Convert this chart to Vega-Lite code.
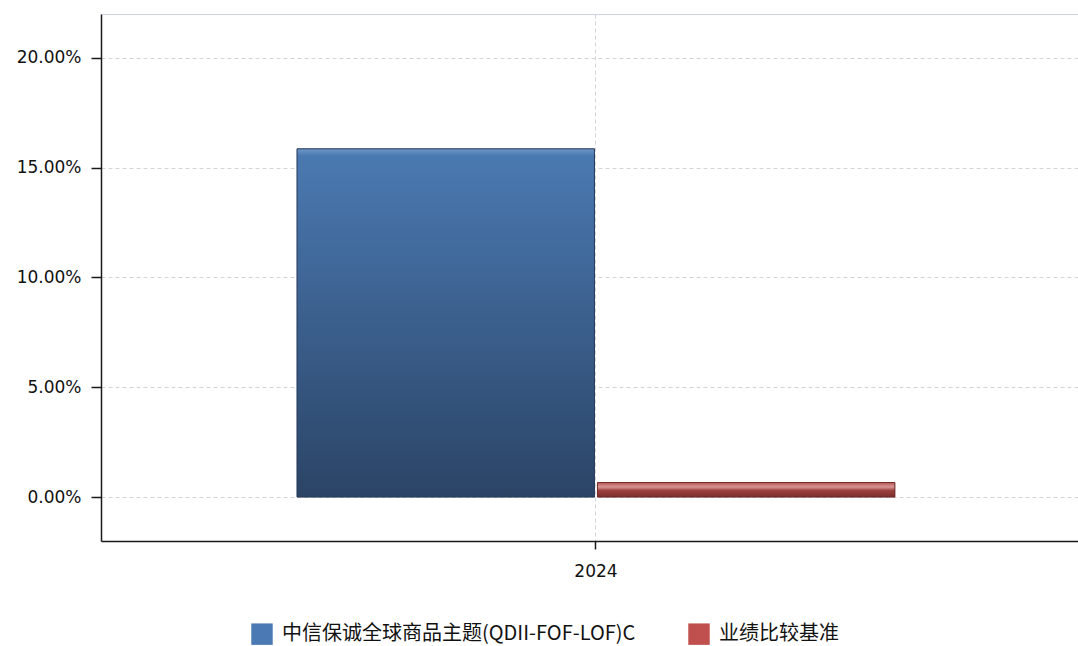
{
  "$schema": "https://vega.github.io/schema/vega-lite/v6.json",
  "width": 977,
  "height": 527,
  "autosize": {"type": "none"},
  "padding": {"left": 101, "top": 14, "right": 0, "bottom": 105},
  "background": "white",
  "config": {
    "view": {"stroke": "#c9d6e6", "strokeWidth": 1},
    "font": "DejaVu Sans"
  },
  "data": {
    "values": [
      {"year": "2024", "series": "中信保诚全球商品主题(QDII-FOF-LOF)C", "value": 0.1586},
      {"year": "2024", "series": "业绩比较基准", "value": 0.0066}
    ]
  },
  "encoding": {
    "x": {
      "field": "year",
      "type": "nominal",
      "scale": {"paddingInner": 0, "paddingOuter": 0.317, "align": 0.517},
      "axis": {
        "title": null,
        "labelAngle": 0,
        "labelFontSize": 17,
        "labelColor": "#111111",
        "labelPadding": 14,
        "grid": true,
        "gridColor": "#d4d4d4",
        "gridDash": [4, 3],
        "domainColor": "#1a1a1a",
        "domainWidth": 1.5,
        "tickColor": "#1a1a1a",
        "tickWidth": 1.5,
        "tickSize": 8
      }
    },
    "xOffset": {
      "field": "series",
      "type": "nominal",
      "sort": ["中信保诚全球商品主题(QDII-FOF-LOF)C", "业绩比较基准"],
      "scale": {"paddingInner": 0.01}
    },
    "y": {
      "field": "value",
      "type": "quantitative",
      "scale": {"domain": [-0.02, 0.22], "nice": false, "zero": false},
      "axis": {
        "title": null,
        "values": [0, 0.05, 0.1, 0.15, 0.2],
        "format": ".2%",
        "labelFontSize": 17,
        "labelColor": "#111111",
        "labelPadding": 10,
        "grid": true,
        "gridColor": "#d4d4d4",
        "gridDash": [4, 3],
        "domainColor": "#1a1a1a",
        "domainWidth": 1.5,
        "tickColor": "#1a1a1a",
        "tickWidth": 1.5,
        "tickSize": 10
      }
    },
    "y2": {"datum": 0}
  },
  "layer": [
    {
      "mark": {"type": "bar"},
      "encoding": {
        "color": {
          "field": "series",
          "type": "nominal",
          "sort": ["中信保诚全球商品主题(QDII-FOF-LOF)C", "业绩比较基准"],
          "scale": {
            "domain": ["中信保诚全球商品主题(QDII-FOF-LOF)C", "业绩比较基准"],
            "range": ["#4a79b3", "#c0504d"]
          },
          "legend": {
            "title": null,
            "orient": "none",
            "direction": "horizontal",
            "legendX": 150,
            "legendY": 609,
            "symbolType": "square",
            "symbolSize": 460,
            "symbolStrokeWidth": 0,
            "labelFontSize": 20,
            "labelFont": "Noto Sans CJK SC",
            "labelColor": "#111111",
            "labelOffset": 9,
            "labelLimit": 0,
            "columnPadding": 52
          }
        }
      }
    },
    {
      "mark": {"type": "bar", "strokeWidth": 1},
      "encoding": {
        "fill": {
          "condition": {
            "test": "datum.series === '业绩比较基准'",
            "value": {
              "gradient": "linear", "x1": 0, "y1": 0, "x2": 0, "y2": 1,
              "stops": [
                {"offset": 0, "color": "#b85a58"},
                {"offset": 0.3, "color": "#d79694"},
                {"offset": 0.55, "color": "#9c3f3d"},
                {"offset": 1, "color": "#7a2f2d"}
              ]
            }
          },
          "value": {
            "gradient": "linear", "x1": 0, "y1": 0, "x2": 0, "y2": 1,
            "stops": [
              {"offset": 0, "color": "#6f98c8"},
              {"offset": 0.02, "color": "#4a79b1"},
              {"offset": 1, "color": "#2b4466"}
            ]
          }
        },
        "stroke": {
          "condition": {"test": "datum.series === '业绩比较基准'", "value": "#6e2a28"},
          "value": "#25395a"
        }
      }
    }
  ]
}
